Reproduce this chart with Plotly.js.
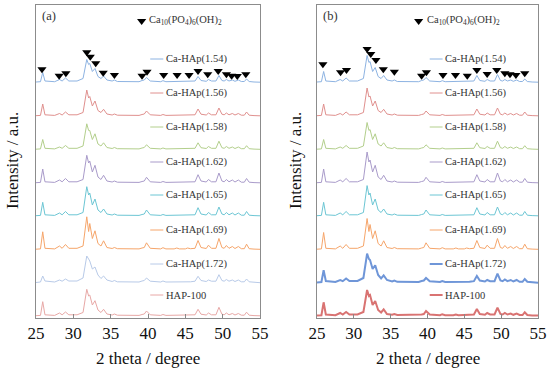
<!DOCTYPE html>
<html>
<head>
<meta charset="utf-8">
<script src="https://cdn.plot.ly/plotly-3.0.1.min.js"></script>
<style>html,body{margin:0;padding:0;background:#fff;}#chart{width:550px;height:372px;}</style>
</head>
<body>
<div id="chart"></div>
<script>
// 2 theta sampling points (degrees)
const twoTheta = [25.0,25.6,25.9,26.2,27.5,28.15,28.5,28.95,29.4,30.5,
  31.3,31.8,32.05,32.2,32.55,32.9,33.3,33.7,34.05,34.5,
  35.2,35.5,35.9,38.8,39.2,39.5,39.8,40.3,41.7,42.0,
  42.4,43.5,43.85,44.2,45.0,45.3,45.7,46.3,46.7,47.1,
  47.8,48.1,48.5,49.1,49.5,49.9,50.2,50.5,50.85,51.3,
  51.65,52.1,52.5,52.9,53.2,53.55,54.2,55.0];

const sampleNames = ["Ca-HAp(1.54)","Ca-HAp(1.56)","Ca-HAp(1.58)","Ca-HAp(1.62)","Ca-HAp(1.65)","Ca-HAp(1.69)","Ca-HAp(1.72)","HAP-100"];
const stackOffset = [235.5, 202, 168.5, 135, 102, 68.5, 35, 2];
const labelLevel = [259, 225, 191, 156, 123, 88, 54, 23];

// Panel (a) intensities (a.u.)
const a154 = [0.5,0.8,10,1.5,0.8,3,1.5,4.5,1.5,1.5, 4,23,18,19,11,14,6,4,6.5,2.5, 1.5,2.5,1,0.8,2,2.5,5,1.5,0.8,1.8, 0.8,0.8,1.5,0.8,0.8,1.5,1,1.5,6,2, 1.2,3,1.5,1.5,7,2,1.5,3,1.5,2.5, 1.2,2.5,1,1,3.5,1,0.5,0.3];
const a156 = [0.3,0.6,12,1.2,0.6,2.5,1,4,1.2,1.2, 3.5,26,18,19.5,10,15,5.5,3.5,6.7,2, 1,2,0.8,0.6,1.5,2,5,1.2,0.6,1.5, 0.6,0.6,1.2,0.6,0.6,1.2,0.8,1.2,7,1.8, 1,3,1.2,1.2,8,1.8,1.2,3,1.2,2.5, 1,2.5,0.8,0.8,4,0.8,0.4,0.2];
const a158 = [0.3,0.6,10,1.2,0.6,2.5,1.2,4,1.2,1.2, 3.5,25.7,19,19,10,15.7,5.5,3.5,6.7,2, 1,2,0.8,0.6,1.5,2,4.7,1.2,0.6,1.5, 0.6,0.6,1.2,0.6,0.6,1.2,0.8,1.2,6.7,1.8, 1,3,1.2,1.2,8.3,1.8,1.2,3,1.2,2.5, 1,2.5,0.8,0.8,3.8,0.8,0.4,0.2];
const a162 = [0.3,0.6,14,1.2,0.6,3,1.2,4.5,1.2,1.2, 3.5,27.7,20,22,11,17.7,6,3.5,7.7,2, 1,2,0.8,0.6,1.5,2,5.7,1.2,0.6,1.5, 0.6,0.6,1.2,0.6,0.6,1.2,0.8,1.2,8.3,2, 1,3.5,1.2,1.2,10,2,1.2,3.5,1.2,3, 1,3,0.8,0.8,4.5,0.8,0.4,0.2];
const a165 = [0.3,0.6,13.7,1.2,0.6,3,1.2,4.5,1.2,1.2, 3.5,29.3,21,23,11,17,6,3.5,7,2, 1,2,0.8,0.6,1.5,2,6,1.2,0.6,1.5, 0.6,0.6,1.2,0.6,0.6,1.2,0.8,1.2,8.3,2, 1,3.5,1.2,1.2,9,2,1.2,3.5,1.2,3, 1,3,0.8,0.8,4.5,0.8,0.4,0.2];
const a169 = [0.3,0.6,17.7,1.2,0.6,3.5,1.2,5,1.2,1.2, 3.5,32.7,18,26,11,18.7,6,3.5,8.7,2, 1,2,0.8,0.6,1.5,2,6.7,1.2,0.6,1.8, 0.6,0.6,1.5,0.6,0.6,1.5,0.8,1.2,9,2, 1,4.3,1.2,1.2,11,2,1.2,4,1.2,3, 1,3,0.8,0.8,5.3,0.8,0.4,0.2];
const a172 = [0.5,1,7,2,1,3,1.8,4,2,2, 5,27,24,22,14,16,8,4.5,7,3, 1.5,2.5,1.2,1,2,2.5,5,1.8,1,2, 1,1,1.5,1,1,1.5,1.2,1.8,6.7,2.5, 1.5,3,1.8,1.8,8.3,2.5,1.8,3.5,1.8,3, 1.5,3,1.2,1.2,4,1.2,0.6,0.3];
const a100 = [0.3,0.6,14.3,1.2,0.6,3,1.2,4,1.2,1.2, 3.5,26.7,20,21,11,15.3,6,3.5,6.7,2, 1,2,0.8,0.6,1.5,2,5,1.2,0.6,1.5, 0.6,0.6,1.2,0.6,0.6,1.2,0.8,1.2,6.7,1.8, 1,3,1.2,1.2,8.7,1.8,1.2,3,1.2,2.5, 1,2.5,0.8,0.8,3.8,0.8,0.4,0.2];

// Panel (b) intensities (a.u.)
const b154 = [0.5,0.8,11,1.5,0.8,3,1.5,4.5,1.5,1.5, 4,27,20,21,11,15,6,4,7,2.5, 1.5,2.5,1,0.8,2,2.5,5,1.5,0.8,1.8, 0.8,0.8,1.5,0.8,0.8,1.5,1,1.5,7,2, 1.2,3,1.5,1.5,8,2,1.5,3,1.5,2.5, 1.2,2.5,1,1,3.5,1,0.5,0.3];
const b156 = [0.3,0.6,12,1.2,0.6,2.5,1,4,1.2,1.2, 3.5,28,19,20,10,15,5.5,3.5,6.7,2, 1,2,0.8,0.6,1.5,2,5,1.2,0.6,1.5, 0.6,0.6,1.2,0.6,0.6,1.2,0.8,1.2,7,1.8, 1,3,1.2,1.2,8,1.8,1.2,3,1.2,2.5, 1,2.5,0.8,0.8,4,0.8,0.4,0.2];
const b158 = [0.3,0.6,10,1.2,0.6,2.5,1.2,4,1.2,1.2, 3.5,27,19,20,10,15.7,5.5,3.5,6.7,2, 1,2,0.8,0.6,1.5,2,4.7,1.2,0.6,1.5, 0.6,0.6,1.2,0.6,0.6,1.2,0.8,1.2,6.7,1.8, 1,3,1.2,1.2,8.3,1.8,1.2,3,1.2,2.5, 1,2.5,0.8,0.8,3.8,0.8,0.4,0.2];
const b162 = [0.3,0.6,14,1.2,0.6,3,1.2,4.5,1.2,1.2, 3.5,31,21,23,11,17.7,6,3.5,7.7,2, 1,2,0.8,0.6,1.5,2,5.7,1.2,0.6,1.5, 0.6,0.6,1.2,0.6,0.6,1.2,0.8,1.2,8.3,2, 1,3.5,1.2,1.2,10,2,1.2,3.5,1.2,3, 1,3,0.8,0.8,4.5,0.8,0.4,0.2];
const b165 = [0.3,0.6,13.7,1.2,0.6,3,1.2,4.5,1.2,1.2, 3.5,30.4,21,23,11,17,6,3.5,7,2, 1,2,0.8,0.6,1.5,2,6,1.2,0.6,1.5, 0.6,0.6,1.2,0.6,0.6,1.2,0.8,1.2,8.3,2, 1,3.5,1.2,1.2,9,2,1.2,3.5,1.2,3, 1,3,0.8,0.8,4.5,0.8,0.4,0.2];
const b169 = [0.3,0.6,17,1.2,0.6,3.5,1.2,5,1.2,1.2, 3.5,31,18,25,11,18.7,6,3.5,8.7,2, 1,2,0.8,0.6,1.5,2,6.7,1.2,0.6,1.8, 0.6,0.6,1.5,0.6,0.6,1.5,0.8,1.2,9,2, 1,4.3,1.2,1.2,11,2,1.2,4,1.2,3, 1,3,0.8,0.8,5.3,0.8,0.4,0.2];
const b172 = [0.5,1,12.7,2,1,3,1.8,4.5,2,2, 5,29.3,24,23,14,17.7,8,4.5,7.7,3, 1.5,2.5,1.2,1,2,2.5,5,1.8,1,2, 1,1,1.5,1,1,1.5,1.2,1.8,7,2.5, 1.5,3,1.8,1.8,9.3,2.5,1.8,3.5,1.8,3, 1.5,3,1.2,1.2,4,1.2,0.6,0.3];
const b100 = [0.5,0.8,13.7,1.5,0.8,3,1.5,4,1.5,1.5, 4,26,20,21,11,15,6,3.5,6.7,2, 1.2,2,1,0.8,1.5,2,5,1.5,0.8,1.8, 0.8,0.8,1.5,0.8,0.8,1.5,1,1.5,7,2, 1.2,3,1.5,1.5,8.3,2,1.5,3,1.5,2.5, 1.2,2.5,1,1,3.8,1,0.6,0.4];

// Ca10(PO4)6(OH)2 reference reflections marked with triangles
const refPeaksA = [25.8,28.1,29.0,31.8,32.27,33.0,34.0,35.5,39.2,39.87,42.1,43.9,45.5,46.7,48.0,49.4,50.5,51.2,51.96,53.1];
const refLevelA = [248.7,242.3,244.7,265.7,261.3,254.7,245.3,243,242.3,246.3,243,243,243,247,243.7,247,243.7,242.3,242,243.7];
const refPeaksB = [25.8,28.2,29.0,31.8,32.3,33.0,34.0,35.5,39.2,39.85,42.1,43.8,45.4,46.7,48.1,49.4,50.5,51.2,52.0,53.2];
const refLevelB = [253.7,245.7,248,269,264,258,248.7,246.3,242.3,245.7,243,243,242.3,248,244,248,244.7,243.7,243,244.7];

const colorsA = ["#8db3e2","#e0908e","#b3cf8c","#a99bca","#6cc6d4","#f6a56a","#b8cae8","#e8a8a6"];
const colorsB = ["#8db3e2","#e0908e","#b3cf8c","#a99bca","#6cc6d4","#f6a56a","#6f96d8","#d97372"];
const widthsB = [1,1,1,1,1,1,2,2];

const seriesA = [a154,a156,a158,a162,a165,a169,a172,a100];
const seriesB = [b154,b156,b158,b162,b165,b169,b172,b100];

const font = "Liberation Serif";
const traces = [];
const shapes = [];
const annotations = [];

function addPanel(series, colors, widths, xa, ya, refX, refY) {
  series.forEach((vals, i) => {
    traces.push({
      x: twoTheta, y: vals.map(v => v + stackOffset[i]),
      xaxis: xa, yaxis: ya, type: "scatter", mode: "lines",
      line: {color: colors[i], width: widths ? widths[i] : 1},
      hoverinfo: "skip", showlegend: false
    });
    shapes.push({type: "line", xref: xa, yref: ya, x0: 40.3, x1: 42.05, y0: labelLevel[i], y1: labelLevel[i],
      line: {color: colors[i], width: widths ? widths[i] : 1}});
    annotations.push({xref: xa, yref: ya, x: 42.1, y: labelLevel[i], text: sampleNames[i], showarrow: false,
      xanchor: "left", yanchor: "middle", font: {family: font, size: 10.5, color: "#333"}});
  });
  traces.push({x: refX, y: refY, xaxis: xa, yaxis: ya, type: "scatter", mode: "markers",
    marker: {symbol: "triangle-down", size: 8, color: "#000"}, hoverinfo: "skip", showlegend: false});
}

addPanel(seriesA, colorsA, null, "x", "y", refPeaksA, refLevelA);
addPanel(seriesB, colorsB, widthsB, "x2", "y2", refPeaksB, refLevelB);

// key triangles
traces.push({x: [39.15], y: [297], xaxis: "x", yaxis: "y", mode: "markers", type: "scatter",
  marker: {symbol: "triangle-down", size: 8, color: "#000"}, showlegend: false, hoverinfo: "skip"});
traces.push({x: [38.8], y: [297], xaxis: "x2", yaxis: "y2", mode: "markers", type: "scatter",
  marker: {symbol: "triangle-down", size: 8, color: "#000"}, showlegend: false, hoverinfo: "skip"});

const formula = "Ca<sub>10</sub>(PO<sub>4</sub>)<sub>6</sub>(OH)<sub>2</sub>";
annotations.push({xref: "x", yref: "y", x: 39.85, y: 297, text: formula, showarrow: false, xanchor: "left", yanchor: "middle", font: {family: font, size: 10.5, color: "#333"}});
annotations.push({xref: "x2", yref: "y2", x: 39.6, y: 297, text: formula, showarrow: false, xanchor: "left", yanchor: "middle", font: {family: font, size: 10.5, color: "#333"}});
annotations.push({xref: "x", yref: "y", x: 25.55, y: 302, text: "(a)", showarrow: false, xanchor: "left", yanchor: "middle", font: {family: font, size: 12.5, color: "#333"}});
annotations.push({xref: "x2", yref: "y2", x: 25.55, y: 302, text: "(b)", showarrow: false, xanchor: "left", yanchor: "middle", font: {family: font, size: 12.5, color: "#333"}});

// axis titles
annotations.push({xref: "paper", yref: "paper", x: 148/550, y: 1 - 358/372, text: "2 theta / degree", showarrow: false, xanchor: "center", yanchor: "middle", font: {family: font, size: 17, color: "#111"}});
annotations.push({xref: "paper", yref: "paper", x: 428/550, y: 1 - 358/372, text: "2 theta / degree", showarrow: false, xanchor: "center", yanchor: "middle", font: {family: font, size: 17, color: "#111"}});
annotations.push({xref: "paper", yref: "paper", x: 12/550, y: 1 - 161/372, text: "Intensity / a.u.", textangle: -90, showarrow: false, xanchor: "center", yanchor: "middle", font: {family: font, size: 17, color: "#111"}});
annotations.push({xref: "paper", yref: "paper", x: 295/550, y: 1 - 161/372, text: "Intensity / a.u.", textangle: -90, showarrow: false, xanchor: "center", yanchor: "middle", font: {family: font, size: 17, color: "#111"}});

const xTicks = [25,30,35,40,45,50,55];
const xBase = {range: [25,55], tickvals: xTicks, ticktext: xTicks.map(String), ticks: "inside", ticklen: 4, tickcolor: "#888",
  showline: true, mirror: true, linecolor: "#8c8c8c", linewidth: 1, showgrid: false, zeroline: false,
  tickfont: {family: font, size: 17, color: "#111"}};
const yBase = {range: [0,313], showticklabels: false, ticks: "", showline: true, mirror: true, linecolor: "#8c8c8c", linewidth: 1,
  showgrid: false, zeroline: false, domain: [54/372, 367/372]};

const layout = {
  width: 550, height: 372, margin: {l: 0, r: 0, t: 0, b: 0},
  paper_bgcolor: "#fff", plot_bgcolor: "#fff", showlegend: false,
  font: {family: font},
  xaxis: Object.assign({}, xBase, {domain: [36/550, 260/550], anchor: "y"}),
  yaxis: Object.assign({}, yBase, {anchor: "x"}),
  xaxis2: Object.assign({}, xBase, {domain: [317/550, 538/550], anchor: "y2"}),
  yaxis2: Object.assign({}, yBase, {anchor: "x2"}),
  shapes: shapes, annotations: annotations
};

Plotly.newPlot("chart", traces, layout, {staticPlot: true, displayModeBar: false});
</script>
</body>
</html>
